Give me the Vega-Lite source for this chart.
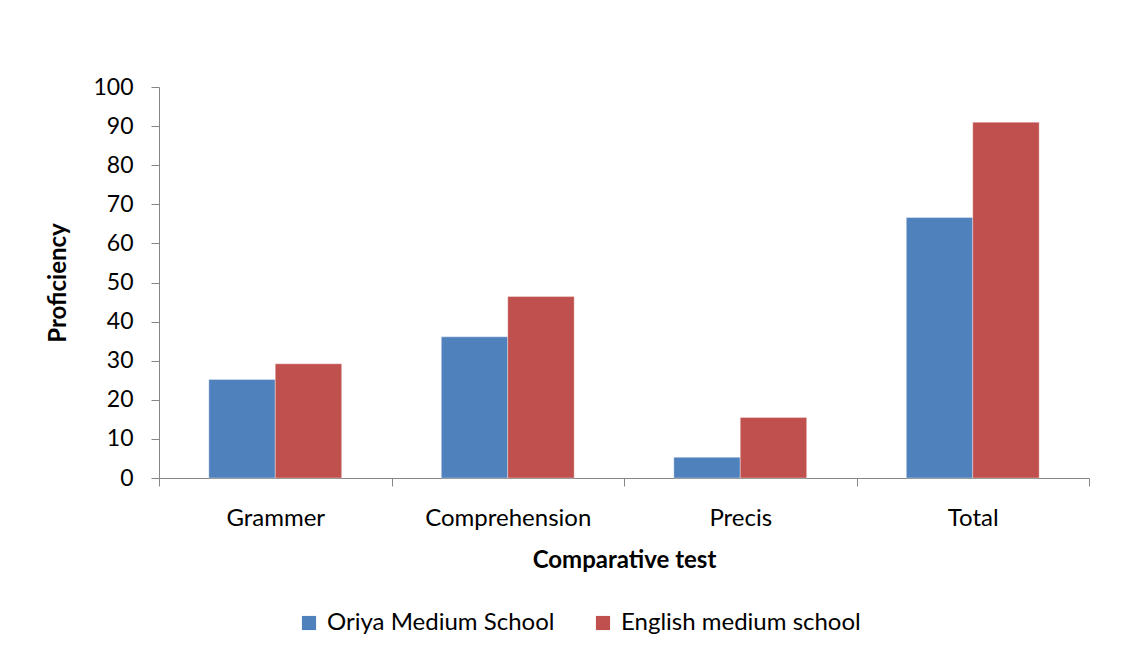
{
  "$schema": "https://vega.github.io/schema/vega-lite/v6.json",
  "autosize": "none",
  "width": 930,
  "height": 391,
  "padding": {"left": 159, "top": 87, "right": 35, "bottom": 188},
  "background": "white",
  "data": {
    "values": [
      {"test": "Grammer", "school": "Oriya Medium School", "value": 25.2},
      {"test": "Grammer", "school": "English medium school", "value": 29.2},
      {"test": "Comprehension", "school": "Oriya Medium School", "value": 36.1},
      {"test": "Comprehension", "school": "English medium school", "value": 46.4},
      {"test": "Precis", "school": "Oriya Medium School", "value": 5.3},
      {"test": "Precis", "school": "English medium school", "value": 15.5},
      {"test": "Total", "school": "Oriya Medium School", "value": 66.6},
      {"test": "Total", "school": "English medium school", "value": 91.0}
    ]
  },
  "mark": {"type": "bar", "stroke": "#ffffff", "strokeOpacity": 0.35, "strokeWidth": 1},
  "encoding": {
    "x": {
      "field": "test",
      "type": "nominal",
      "sort": ["Grammer", "Comprehension", "Precis", "Total"],
      "scale": {"paddingInner": 0, "paddingOuter": 0},
      "axis": {
        "title": "Comparative test",
        "labelAngle": 0,
        "tickBand": "extent",
        "tickSize": 8,
        "labelPadding": 20,
        "titlePadding": 18,
        "labelFontSize": 24,
        "titleFontSize": 24
      }
    },
    "xOffset": {
      "field": "school",
      "type": "nominal",
      "sort": ["Oriya Medium School", "English medium school"],
      "scale": {"paddingInner": 0, "paddingOuter": 0.75}
    },
    "y": {
      "field": "value",
      "type": "quantitative",
      "scale": {"domain": [0, 100], "nice": false},
      "axis": {
        "title": "Proficiency",
        "values": [0, 10, 20, 30, 40, 50, 60, 70, 80, 90, 100],
        "grid": false,
        "tickSize": 8,
        "labelPadding": 18,
        "titlePadding": 22,
        "labelFontSize": 23,
        "titleFontSize": 24
      }
    },
    "color": {
      "field": "school",
      "type": "nominal",
      "sort": ["Oriya Medium School", "English medium school"],
      "scale": {"range": ["#4F81BD", "#C0504D"]},
      "legend": {
        "title": null,
        "orient": "none",
        "direction": "horizontal",
        "legendX": 138,
        "legendY": 524,
        "symbolType": "square",
        "symbolSize": 200,
        "symbolStrokeWidth": 0,
        "labelFontSize": 24,
        "labelLimit": 0,
        "columnPadding": 36,
        "labelOffset": 6
      }
    }
  },
  "config": {
    "font": "Lato",
    "view": {"stroke": null},
    "axis": {
      "domainColor": "#868686",
      "tickColor": "#868686",
      "labelColor": "#000000",
      "titleColor": "#000000",
      "titleFontWeight": "bold",
      "labelFont": "Lato",
      "titleFont": "Lato"
    },
    "legend": {"labelColor": "#000000", "labelFont": "Lato"}
  }
}
